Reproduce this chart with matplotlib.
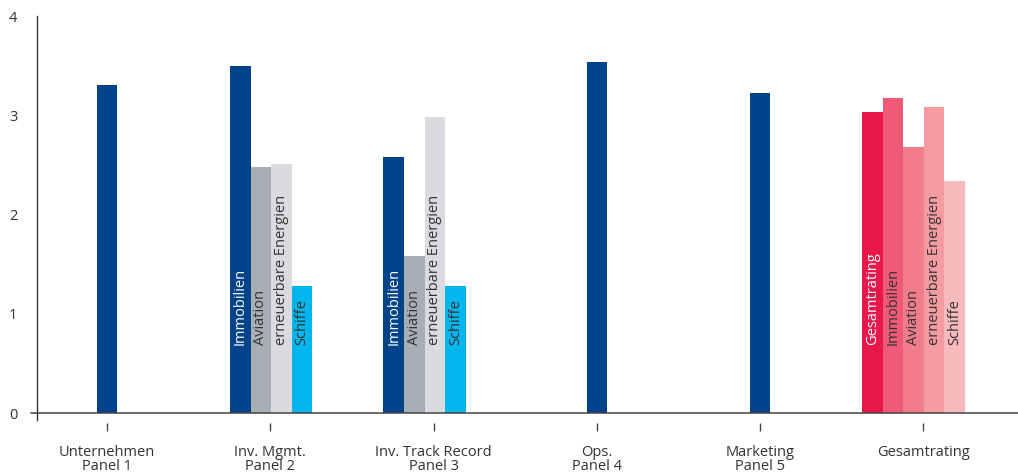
import matplotlib
matplotlib.use('Agg')
import matplotlib.pyplot as plt

plt.rcParams['font.family'] = ['Open Sans', 'DejaVu Sans']

# Kategorien und Werte
categories = ['Unternehmen\nPanel 1', 'Inv. Mgmt.\nPanel 2', 'Inv. Track Record\nPanel 3',
              'Ops.\nPanel 4', 'Marketing\nPanel 5', 'Gesamtrating']
sector_labels = ['Immobilien', 'Aviation', 'erneuerbare Energien', 'Schiffe']
total_labels = ['Gesamtrating'] + sector_labels

unternehmen = [3.31]
inv_mgmt = [3.50, 2.48, 2.51, 1.28]
inv_track = [2.58, 1.58, 2.98, 1.28]
ops = [3.54]
marketing = [3.22]
gesamt = [3.03, 3.17, 2.68, 3.08, 2.34]

groups = [unternehmen, inv_mgmt, inv_track, ops, marketing, gesamt]
group_labels = [[], sector_labels, sector_labels, [], [], total_labels]

# Farben
blue = '#00438A'
sector_colors = [blue, '#A7AEB4', '#D9DBDF', '#00B6EC']
red_colors = ['#E9174A', '#EF5A78', '#F17D8B', '#F59CA3', '#F8B9BD']
group_colors = [[blue], sector_colors, sector_colors, [blue], [blue], red_colors]
text_colors = {blue: 'white', '#E9174A': 'white'}

bar_w = 0.126
group_shift = [0.0, 0.005, -0.055, 0.0, 0.0, -0.06]
label_y = 0.69

fig = plt.figure(figsize=(10.18, 4.73), dpi=100)
ax = fig.add_axes([0.036, 0.112, 0.964, 0.854])

for i, vals in enumerate(groups):
    n = len(vals)
    for j, v in enumerate(vals):
        x = i + group_shift[i] + (j - (n - 1) / 2) * bar_w
        c = group_colors[i][j]
        ax.bar(x, v, width=bar_w, color=c, linewidth=0, zorder=2)
        if group_labels[i]:
            ax.text(x, label_y, group_labels[i][j], rotation=90, rotation_mode='anchor',
                    ha='left', va='center', fontsize=10.5,
                    color=text_colors.get(c, '#333333'), zorder=3)

ax.set_xlim(-0.431, 5.58)
ax.set_ylim(-0.07, 4.0)

# Grundlinie
ax.plot([-0.006, 1], [0, 0], transform=ax.get_yaxis_transform(), color='#444444',
        lw=1.1, clip_on=False, zorder=4)

for s in ['top', 'right']:
    ax.spines[s].set_visible(False)
ax.spines['left'].set_color('#333333')
ax.spines['left'].set_linewidth(1.0)
ax.spines['bottom'].set_position(('outward', 2))
ax.spines['bottom'].set_visible(False)

ax.set_yticks([0, 1, 2, 3, 4])
ax.tick_params(axis='y', length=0, pad=14, labelsize=10.5, labelcolor='#333333')
ax.set_xticks(range(len(categories)))
ax.set_xticklabels(categories, fontsize=10.5, color='#333333', linespacing=0.95)
ax.tick_params(axis='x', length=6, width=1, color='#444444', pad=10)

fig.savefig('out.png', dpi=100)
